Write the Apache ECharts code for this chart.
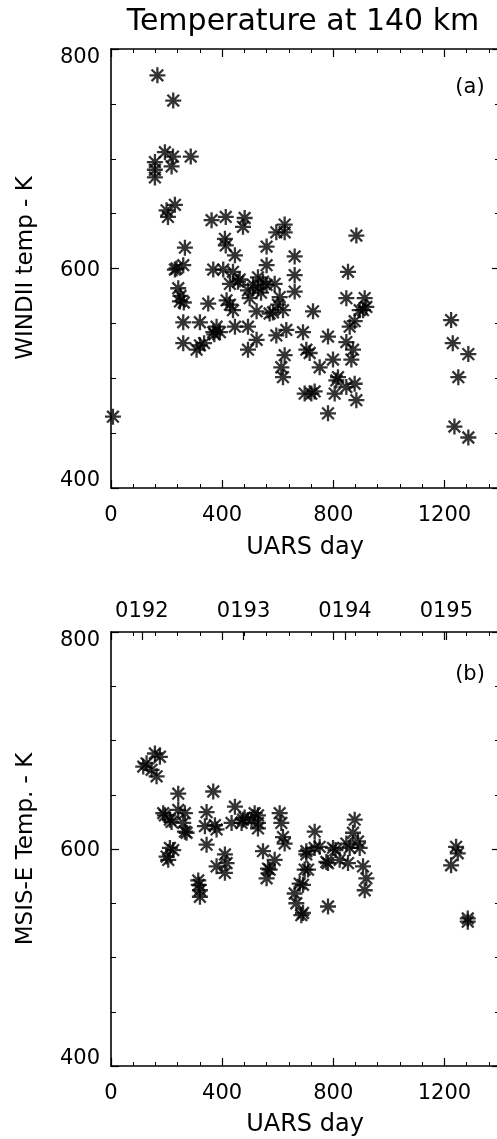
<!DOCTYPE html>
<html>
<head>
<meta charset="utf-8">
<script src="https://cdn.jsdelivr.net/npm/echarts@6/dist/echarts.min.js"></script>
<style>
html,body{margin:0;padding:0;background:#fff;overflow:hidden;}
#chart{width:512px;height:1139px;}
</style>
</head>
<body>
<div id="chart"></div>
<script>
// ---- Data ----
const xTickLabels = ['0', '400', '800', '1200'];
const yTickLabels = ['400', '600', '800'];
const yearDays = [111, 477, 842, 1207];
const yearLabels = ['0192', '0193', '0194', '0195'];

// Panel (a): WINDII temperature at 140 km
const windiiDays = [167, 224, 158, 194, 223, 287, 158, 158, 218, 200, 230, 205, 266, 236, 260, 242, 248, 262, 260, 320,
  260, 320, 308, 350, 368, 380, 392, 362, 413, 481, 475, 410, 413, 446, 368, 404, 439, 457, 416, 428,
  439, 446, 493, 511, 529, 547, 560, 560, 524, 493, 524, 493, 571, 589, 607, 601, 619, 595, 631, 625,
  613, 619, 625, 625, 661, 661, 661, 595, 691, 703, 727, 697, 733, 751, 781, 781, 799, 805, 817, 853,
  847, 847, 859, 865, 871, 877, 883, 847, 883, 895, 913, 919, 907, 715, 1224, 1230, 1286, 1250, 1236, 1286,
  7, 230, 428, 529, 560, 499, 250, 463, 540, 583, 335, 372, 721, 811, 877];
const windiiTemps = [776, 753, 697, 706, 702, 702, 690, 683, 693, 653, 658, 647, 619, 600, 603, 582, 570, 569, 551, 551,
  532, 530, 526, 568, 542, 547, 542, 644, 647, 646, 638, 627, 621, 612, 599, 599, 597, 588, 571, 567,
  562, 547, 580, 585, 582, 588, 603, 620, 561, 526, 535, 547, 559, 586, 574, 567, 562, 539, 544, 521,
  510, 501, 640, 633, 611, 594, 579, 633, 542, 526, 561, 486, 488, 510, 538, 468, 517, 486, 501, 597,
  573, 533, 547, 517, 526, 495, 480, 492, 630, 562, 573, 565, 562, 523, 553, 532, 522, 501, 456, 446,
  465, 599, 586, 592, 585, 573, 575, 590, 578, 560, 532, 540, 486, 498, 552];

// Panel (b): MSIS-E temperature
const msisDays = [128, 158, 146, 164, 116, 176, 368, 242, 242, 194, 266, 218, 266, 260, 344, 374, 344, 338, 446, 434,
  470, 506, 529, 529, 481, 607, 613, 619, 625, 733, 703, 733, 709, 691, 691, 685, 667, 661, 679, 697,
  799, 775, 823, 853, 877, 871, 889, 859, 895, 847, 907, 919, 913, 781, 1242, 1248, 1224, 1284, 1284, 224,
  206, 200, 314, 320, 320, 316, 410, 380, 410, 416, 547, 589, 565, 560, 571, 212, 751, 703, 781, 808,
  188, 212, 272, 380, 517, 529, 475];
const msisTemps = [679, 688, 673, 667, 676, 685, 653, 651, 636, 631, 633, 625, 616, 624, 634, 622, 604, 621, 639, 624,
  624, 627, 631, 619, 629, 633, 624, 611, 605, 616, 598, 601, 581, 567, 541, 539, 550, 559, 568, 581,
  601, 588, 590, 587, 627, 615, 607, 601, 601, 605, 584, 573, 562, 547, 602, 596, 585, 536, 533, 599,
  590, 593, 571, 562, 556, 567, 595, 584, 578, 587, 598, 590, 582, 573, 581, 601, 602, 595, 587, 599,
  633, 627, 615, 618, 633, 624, 627];

// ---- Build pairs ----
const windiiData = windiiDays.map((d, i) => [d, windiiTemps[i]]);
const msisData = msisDays.map((d, i) => [d, msisTemps[i]]);

const FONT = 'DejaVu Sans';
const BLACK = '#000';
const STAR = 'path://M0,-10L0,10M-10,0L10,0M-7.3,-7.3L7.3,7.3M-7.3,7.3L7.3,-7.3';

const grids = [
  {left: 111, top: 49, width: 389, height: 439},
  {left: 111, top: 632, width: 389, height: 434}
];

const lineStyle = {color: BLACK, width: 1.6};

function xAxisBase(gridIndex, position, showLabels) {
  return {
    type: 'value', gridIndex: gridIndex, position: position,
    min: 0, max: 1400, interval: 400,
    axisLine: {show: true, onZero: false, lineStyle: lineStyle},
    axisTick: {show: true, inside: true, length: 8, lineStyle: {color: BLACK, width: 1.2}},
    minorTick: {show: true, splitNumber: 5, length: 4, lineStyle: {color: BLACK, width: 1}},
    splitLine: {show: false},
    minorSplitLine: {show: false},
    axisLabel: {
      show: showLabels, margin: 17, showMaxLabel: false,
      color: BLACK, fontFamily: FONT, fontSize: 21,
      formatter: function (v) { const i = [0, 400, 800, 1200].indexOf(v); return i >= 0 ? xTickLabels[i] : ''; }
    }
  };
}

function yAxisBase(gridIndex, position, showLabels) {
  return {
    type: 'value', gridIndex: gridIndex, position: position,
    min: 400, max: 800, interval: 200,
    axisLine: {show: true, onZero: false, lineStyle: lineStyle},
    axisTick: {show: true, inside: true, length: 8, lineStyle: {color: BLACK, width: 1.2}},
    minorTick: {show: true, splitNumber: 4, length: 5, lineStyle: {color: BLACK, width: 1}},
    splitLine: {show: false},
    minorSplitLine: {show: false},
    axisLabel: {
      show: showLabels, margin: 11,
      color: BLACK, fontFamily: FONT, fontSize: 21,
      formatter: function (v) {
        const i = [400, 600, 800].indexOf(v);
        if (i < 0) return '';
        if (v === 800) return '{top|' + yTickLabels[i] + '}';
        if (v === 400) return '{bot|' + yTickLabels[i] + '}';
        return '{mid|' + yTickLabels[i] + '}';
      },
      rich: {
        top: {fontFamily: FONT, fontSize: 21, color: BLACK, padding: [17, 0, 0, 0]},
        bot: {fontFamily: FONT, fontSize: 21, color: BLACK, padding: [0, 0, 15, 0]},
        mid: {fontFamily: FONT, fontSize: 21, color: BLACK, padding: [4, 0, 0, 0]}
      }
    }
  };
}

const yearAxis = {
  type: 'value', gridIndex: 1, position: 'top',
  min: 0, max: 1400,
  axisLine: {show: false},
  axisTick: {show: true, inside: true, length: 8, customValues: yearDays, lineStyle: {color: BLACK, width: 1.2}},
  minorTick: {show: false},
  splitLine: {show: false},
  axisLabel: {
    show: true, margin: 10, customValues: yearDays,
    color: BLACK, fontFamily: FONT, fontSize: 21,
    formatter: function (v) { const i = yearDays.indexOf(v); return i >= 0 ? yearLabels[i] : ''; }
  }
};

function txt(text, x, y, size, rot) {
  return {
    type: 'text', x: x, y: y, rotation: rot || 0, silent: true,
    style: {text: text, fill: BLACK, font: size + 'px "' + FONT + '"', textAlign: 'center', textVerticalAlign: 'middle'}
  };
}

const option = {
  backgroundColor: '#fff',
  animation: false,
  grid: grids,
  xAxis: [
    xAxisBase(0, 'bottom', true),
    xAxisBase(0, 'top', false),
    xAxisBase(1, 'bottom', true),
    xAxisBase(1, 'top', false),
    yearAxis
  ],
  yAxis: [
    yAxisBase(0, 'left', true),
    yAxisBase(0, 'right', false),
    yAxisBase(1, 'left', true),
    yAxisBase(1, 'right', false)
  ],
  graphic: [
    txt('Temperature at 140 km', 303, 22, 30),
    txt('(a)', 470, 88, 21),
    txt('UARS day', 305, 548, 24),
    txt('WINDII temp - K', 26, 268, 23, Math.PI / 2),
    txt('(b)', 470, 675, 21),
    txt('UARS day', 305, 1125, 24),
    txt('MSIS-E Temp. - K', 26, 849, 23, Math.PI / 2)
  ],
  series: [
    {
      type: 'scatter', xAxisIndex: 0, yAxisIndex: 0, data: windiiData,
      symbol: STAR, symbolSize: 16, clip: true,
      itemStyle: {color: 'rgba(0,0,0,0)', borderColor: BLACK, borderWidth: 2.3},
      emphasis: {disabled: true}
    },
    {
      type: 'scatter', xAxisIndex: 2, yAxisIndex: 2, data: msisData,
      symbol: STAR, symbolSize: 16, clip: true,
      itemStyle: {color: 'rgba(0,0,0,0)', borderColor: BLACK, borderWidth: 2.3},
      emphasis: {disabled: true}
    }
  ]
};

const chart = echarts.init(document.getElementById('chart'), null, {renderer: 'canvas'});
chart.setOption(option);
</script>
</body>
</html>
